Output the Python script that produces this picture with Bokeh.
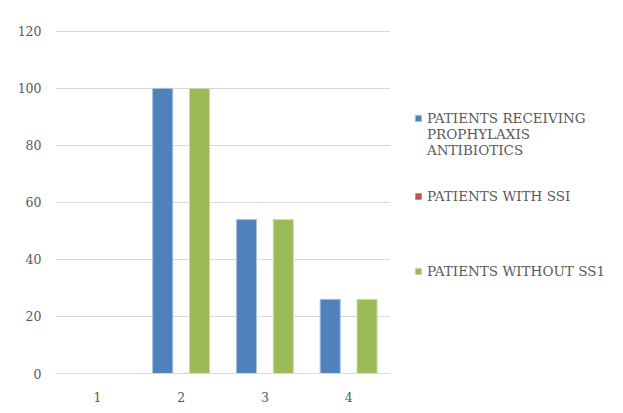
from bokeh.plotting import figure
from bokeh.models import ColumnDataSource, Legend, LegendItem, Range1d, FactorRange
from bokeh.transform import dodge
from bokeh.embed import file_html
from bokeh.resources import INLINE

categories = ["1", "2", "3", "4"]
receiving = [0, 100, 54, 26]
with_ssi = [0, 0, 0, 0]
without_ssi = [0, 100, 54, 26]
y_ticks = [0, 20, 40, 60, 80, 100, 120]

# two leading blank lines keep the legend swatch level with the first text line
series_names = ["\n\nPATIENTS RECEIVING\nPROPHYLAXIS\nANTIBIOTICS", "PATIENTS WITH SSI", "PATIENTS WITHOUT SS1"]
colors = ["#4F81BD", "#C0504D", "#9BBB59"]
edges = ["#a9c2e0", "#e0a8a6", "#cddcab"]

src = ColumnDataSource(dict(cat=categories, a=receiving, b=with_ssi, c=without_ssi))

FONT = "DejaVu Serif"
GRAY = "#595959"

p = figure(x_range=FactorRange(*categories, range_padding=0), y_range=Range1d(0, 120.3),
           width=623, height=413, frame_width=335, frame_height=343,
           min_border_left=55, min_border_top=30, min_border_bottom=40, min_border_right=0,
           output_backend="svg", toolbar_location=None)

r1 = p.vbar(x=dodge("cat", -0.22, range=p.x_range), top="a", width=0.24, source=src,
            fill_color=colors[0], line_color=edges[0], line_width=1)
r2 = p.vbar(x=dodge("cat", 0.0, range=p.x_range), top="b", width=0.24, source=src,
            fill_color=colors[1], line_color=colors[1], line_width=0, line_alpha=0)
r3 = p.vbar(x=dodge("cat", 0.22, range=p.x_range), top="c", width=0.24, source=src,
            fill_color=colors[2], line_color=edges[2], line_width=1)

p.outline_line_color = None
p.xgrid.grid_line_color = None
p.ygrid.grid_line_color = "#d9d9d9"
p.ygrid.grid_line_width = 1
p.yaxis.ticker = y_ticks
p.yaxis.axis_line_color = None
p.yaxis.major_tick_line_color = None
p.yaxis.minor_tick_line_color = None
p.yaxis.major_label_standoff = 8
p.xaxis.axis_line_color = "#d9d9d9"
p.xaxis.major_tick_line_color = None
p.xaxis.minor_tick_line_color = None
p.xaxis.major_label_standoff = 12
for ax in (p.xaxis, p.yaxis):
    ax.major_label_text_font = FONT
    ax.major_label_text_font_size = "12.5px"
    ax.major_label_text_color = GRAY

items = [LegendItem(label=n, renderers=[r]) for n, r in zip(series_names, [r1, r2, r3])]
lg = Legend(items=items, location=(24, 65),
            padding=0, margin=0, spacing=0, border_line_alpha=0, background_fill_alpha=0,
            glyph_width=8, glyph_height=8, label_standoff=5,
            label_text_font=FONT, label_text_font_size="13.5px", label_text_color=GRAY,
            label_height=75, label_width=190)
p.add_layout(lg, "right")

open("out.html", "w").write(file_html(p, INLINE))
